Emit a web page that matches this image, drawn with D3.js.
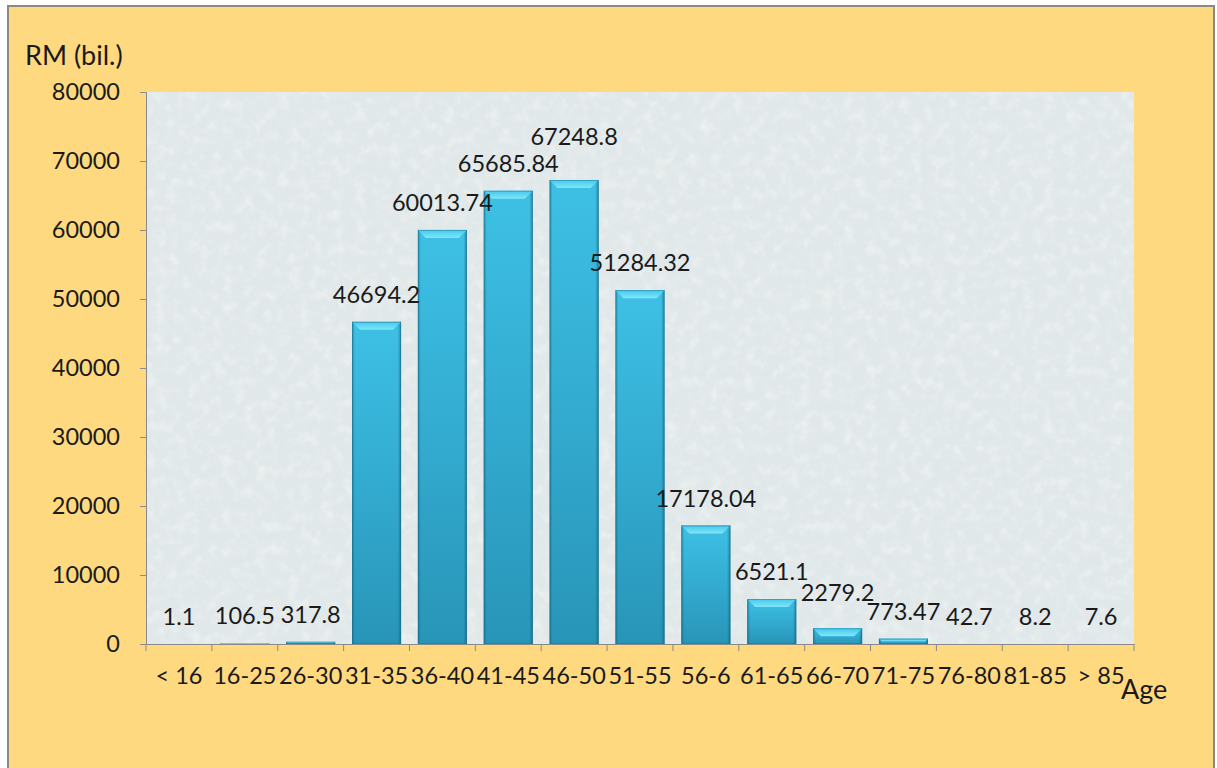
<!DOCTYPE html>
<html>
<head>
<meta charset="utf-8">
<script src="https://cdn.jsdelivr.net/npm/d3@7"></script>
<style>
  html, body { margin: 0; padding: 0; background: #ffffff; }
  svg { display: block; }
  text { font-family: Lato, "Open Sans", "DejaVu Sans", sans-serif; fill: #1a1a1a; }
</style>
</head>
<body>
<svg id="chart" width="1217" height="768"></svg>
<script>
// ---- data ----
const categories = ["< 16", "16-25", "26-30", "31-35", "36-40", "41-45", "46-50", "51-55", "56-6", "61-65", "66-70", "71-75", "76-80", "81-85", "> 85"];
const values = [1.1, 106.5, 317.8, 46694.2, 60013.74, 65685.84, 67248.8, 51284.32, 17178.04, 6521.1, 2279.2, 773.47, 42.7, 8.2, 7.6];
const valueLabels = ["1.1", "106.5", "317.8", "46694.2", "60013.74", "65685.84", "67248.8", "51284.32", "17178.04", "6521.1", "2279.2", "773.47", "42.7", "8.2", "7.6"];
const yTicks = [0, 10000, 20000, 30000, 40000, 50000, 60000, 70000, 80000];
// extra upward nudge (px) of individual value labels, as placed in the original to avoid overlaps
const labelNudge = [0, 0, 0, 0, 0, 0, 16, 0, 0, 0, 8, 0, 0, 0, 0];
const yTitle = "RM (bil.)";
const xTitle = "Age";

// ---- layout ----
const W = 1217, H = 768;
const plot = { left: 146, right: 1134, top: 92, bottom: 644 };
const FS = 23.5;

const svg = d3.select("#chart");
const defs = svg.append("defs");

// fine grain texture for plot area
const f = defs.append("filter").attr("id", "tex").attr("x", 0).attr("y", 0).attr("width", 1).attr("height", 1);
f.append("feTurbulence").attr("type", "fractalNoise").attr("baseFrequency", 0.09).attr("numOctaves", 3).attr("seed", 5).attr("result", "n");
f.append("feColorMatrix").attr("in", "n").attr("type", "matrix")
  .attr("values", "0 0 0 0 1  0 0 0 0 1  0 0 0 0 1  0 0 0 1.4 -0.6").attr("result", "w");
f.append("feComposite").attr("in", "w").attr("in2", "SourceGraphic").attr("operator", "atop");

// bar gradients
const gV = defs.append("linearGradient").attr("id", "barV").attr("x1", 0).attr("x2", 0).attr("y1", 0).attr("y2", 1);
gV.append("stop").attr("offset", "0").attr("stop-color", "#3ec0e5");
gV.append("stop").attr("offset", "0.5").attr("stop-color", "#33abd0");
gV.append("stop").attr("offset", "1").attr("stop-color", "#2895b7");
const gH = defs.append("linearGradient").attr("id", "barH").attr("x1", 0).attr("x2", 1).attr("y1", 0).attr("y2", 0);
gH.append("stop").attr("offset", "0").attr("stop-color", "#0c4f66").attr("stop-opacity", 0.45);
gH.append("stop").attr("offset", "0.06").attr("stop-color", "#0c4f66").attr("stop-opacity", 0.0);
gH.append("stop").attr("offset", "0.93").attr("stop-color", "#0c4f66").attr("stop-opacity", 0.0);
gH.append("stop").attr("offset", "1").attr("stop-color", "#0c4f66").attr("stop-opacity", 0.5);
const gTop = defs.append("linearGradient").attr("id", "barTop").attr("x1", 0).attr("x2", 0).attr("y1", 0).attr("y2", 1);
gTop.append("stop").attr("offset", "0").attr("stop-color", "#45c8ec");
gTop.append("stop").attr("offset", "1").attr("stop-color", "#7fe6fa");

// chart area background + frame
svg.append("rect").attr("x", 0).attr("y", 0).attr("width", W).attr("height", H).attr("fill", "#ffffff");
svg.append("rect").attr("x", 8).attr("y", 6).attr("width", 1206).attr("height", 780)
  .attr("fill", "#fed980").attr("stroke", "#8c8886").attr("stroke-width", 2);

// plot area
const pa = svg.append("g");
pa.append("rect").attr("x", plot.left).attr("y", plot.top)
  .attr("width", plot.right - plot.left).attr("height", plot.bottom - plot.top)
  .attr("fill", "#e1e8e9");
pa.append("rect").attr("x", plot.left).attr("y", plot.top)
  .attr("width", plot.right - plot.left).attr("height", plot.bottom - plot.top)
  .attr("fill", "#e1e8e9").attr("filter", "url(#tex)").attr("opacity", 0.55);

// scales
const x = d3.scaleBand().domain(categories).range([plot.left, plot.right]).paddingInner(0.255).paddingOuter(0.1275);
const xb = d3.scaleBand().domain(categories).range([plot.left, plot.right]).padding(0);
const y = d3.scaleLinear().domain([0, 80000]).range([plot.bottom, plot.top]);

// bars
const data = categories.map((c, i) => ({ c, v: values[i], label: valueLabels[i], nudge: labelNudge[i] }));
const bars = svg.append("g").selectAll("g").data(data).join("g");
bars.each(function (d) {
  const g = d3.select(this);
  const x0 = x(d.c), bw = x.bandwidth();
  const y0 = y(d.v), h = y(0) - y(d.v);
  if (h <= 0.3) return;
  g.append("rect").attr("x", x0).attr("y", y0).attr("width", bw).attr("height", h).attr("fill", "url(#barV)");
  g.append("rect").attr("x", x0).attr("y", y0).attr("width", bw).attr("height", h).attr("fill", "url(#barH)");
  const bev = Math.min(8, h / 2);
  g.append("path")
    .attr("d", `M${x0},${y0} L${x0 + bw},${y0} L${x0 + bw - bev},${y0 + bev} L${x0 + bev},${y0 + bev} Z`)
    .attr("fill", "url(#barTop)");
  g.append("rect").attr("x", x0 + 0.5).attr("y", y0 + 0.5).attr("width", bw - 1).attr("height", Math.max(0, h - 1))
    .attr("fill", "none").attr("stroke", "#1a6f8c").attr("stroke-opacity", 0.45).attr("stroke-width", 1);
});

// value labels
svg.append("g").selectAll("text").data(data).join("text")
  .attr("x", d => x(d.c) + x.bandwidth() / 2)
  .attr("y", d => y(d.v) - 27 - d.nudge)
  .attr("dy", "0.35em")
  .attr("text-anchor", "middle")
  .attr("font-size", FS)
  .text(d => d.label);

// y axis
const yAxis = d3.axisLeft(y).tickValues(yTicks).tickSize(6).tickPadding(20).tickFormat(d3.format("d"));
const gy = svg.append("g").attr("transform", `translate(${plot.left},0)`).call(yAxis);
gy.select(".domain").attr("stroke", "#8a8a8a");
gy.selectAll(".tick line").attr("stroke", "#8a8a8a");
gy.selectAll(".tick text").attr("font-size", FS).attr("fill", "#1a1a1a")
  .style("font-family", "Lato, 'Open Sans', sans-serif");

// x axis
const xAxis = d3.axisBottom(xb).tickSize(0).tickPadding(23);
const gx = svg.append("g").attr("transform", `translate(0,${plot.bottom})`).call(xAxis);
gx.select(".domain").attr("stroke", "#8a8a8a");
gx.selectAll(".tick text").attr("font-size", FS).attr("fill", "#1a1a1a")
  .style("font-family", "Lato, 'Open Sans', sans-serif");
// category boundary tick marks
svg.append("g").selectAll("line").data(categories.concat(["__end"])).join("line")
  .attr("x1", (d, i) => i < categories.length ? xb(d) : plot.right)
  .attr("x2", (d, i) => i < categories.length ? xb(d) : plot.right)
  .attr("y1", plot.bottom).attr("y2", plot.bottom + 7)
  .attr("stroke", "#8a8a8a");

// axis titles
svg.append("text").attr("x", 25).attr("y", 56).attr("dy", "0.35em").attr("font-size", 27).text(yTitle);
svg.append("text").attr("x", 1121).attr("y", 690).attr("dy", "0.35em").attr("font-size", 27).text(xTitle);
</script>
</body>
</html>
